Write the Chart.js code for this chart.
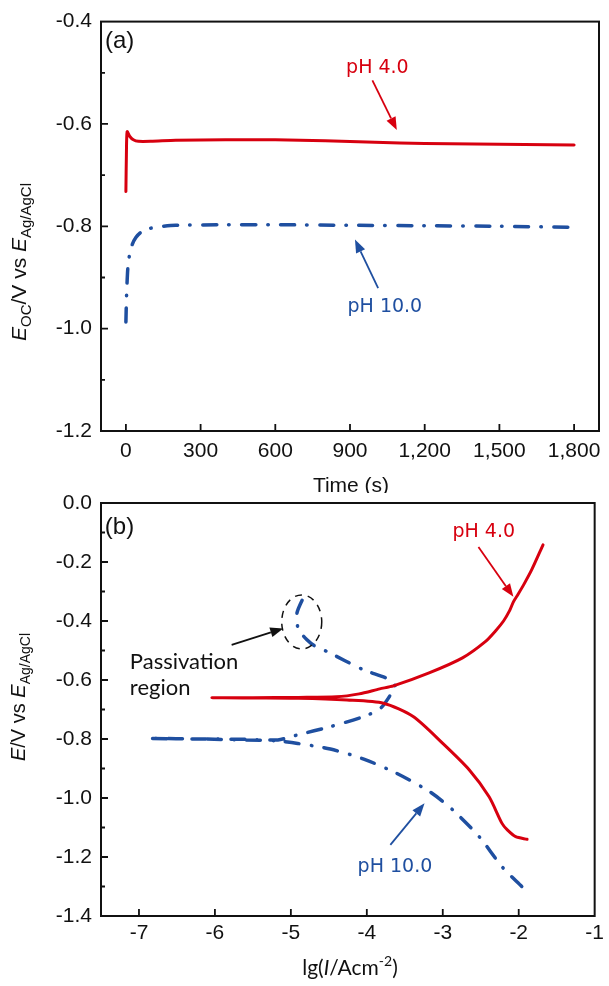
<!DOCTYPE html>
<html>
<head>
<meta charset="utf-8">
<script src="https://cdn.jsdelivr.net/npm/chart.js@4.4.1/dist/chart.umd.min.js"></script>
<style>
  body { margin: 0; background: #fff; }
  #wrap { position: relative; width: 609px; height: 986px; }
  canvas { position: absolute; left: 0; }
</style>
</head>
<body>
<div id="wrap">
  <canvas id="ocpChart" width="609" height="493" style="top:0"></canvas>
  <canvas id="tafelChart" width="609" height="506" style="top:480px"></canvas>
</div>
<script>
// (a) open-circuit potential vs time
const ocpTimeAcid = [0, 2, 5, 15, 30, 50, 100, 200, 400, 600, 800, 1000, 1200, 1400, 1600, 1800];
const ocpAcid = [-0.732, -0.66, -0.615, -0.624, -0.631, -0.634, -0.634, -0.632, -0.631, -0.631, -0.633, -0.636, -0.638, -0.639, -0.640, -0.641];
const ocpTimeBase = [0, 3, 8, 15, 25, 40, 60, 90, 130, 200, 400, 600, 900, 1200, 1500, 1800];
const ocpBase = [-0.987, -0.93, -0.88, -0.855, -0.836, -0.822, -0.812, -0.805, -0.801, -0.798, -0.797, -0.797, -0.798, -0.799, -0.800, -0.802];
const timeTicks = [0, 300, 600, 900, 1200, 1500, 1800];
const ocpTicks = [-1.2, -1.0, -0.8, -0.6, -0.4];

// (b) potentiodynamic polarization, points in scan order
const tafelAcidLogI = [-1.89, -2.04, -2.15, -2.22, -2.39, -2.65, -3.00, -3.39, -3.78, -4.26, -4.90, -5.50, -6.04, -5.50, -4.90, -4.40, -4.10, -3.83, -3.65, -3.18, -2.74, -2.44, -2.30, -2.20, -2.12, -2.07, -2.01, -1.93, -1.83, -1.68];
const tafelAcidE = [-1.140, -1.131, -1.108, -1.086, -0.996, -0.905, -0.815, -0.724, -0.679, -0.668, -0.662, -0.661, -0.660, -0.660, -0.659, -0.657, -0.647, -0.630, -0.620, -0.576, -0.525, -0.470, -0.432, -0.400, -0.365, -0.335, -0.310, -0.275, -0.227, -0.142];
const tafelBaseLogI = [-1.96, -2.22, -2.52, -2.87, -3.17, -3.61, -4.04, -4.48, -4.91, -5.20, -5.60, -6.20, -6.88, -6.20, -5.60, -5.17, -4.91, -4.48, -4.04, -3.82, -3.69, -3.63, -3.72, -4.04, -4.52, -4.69, -4.77, -4.90, -4.92, -4.82];
const tafelBaseE = [-1.300, -1.233, -1.131, -1.040, -0.979, -0.916, -0.868, -0.834, -0.815, -0.806, -0.803, -0.800, -0.798, -0.800, -0.801, -0.803, -0.786, -0.758, -0.724, -0.696, -0.651, -0.620, -0.596, -0.566, -0.504, -0.484, -0.468, -0.429, -0.373, -0.312];
const logITicks = [-7, -6, -5, -4, -3, -2, -1];
const tafelTicks = [-1.4, -1.2, -1.0, -0.8, -0.6, -0.4, -0.2, 0.0];

const RED = '#d7000f';
const BLUE = '#1f4fa0';
const DASH_DOT = [14, 12, 0.5, 12.5];
const TICK_FONT = { family: '"Liberation Sans", Arial, sans-serif', size: 21 };

function toPoints(xs, ys) {
    return xs.map((x, i) => ({ x: x, y: ys[i] }));
}

function fixTicks(values) {
    return scale => { scale.ticks = values.map(v => ({ value: v })); };
}

function drawRich(ctx, parts, cx, cy, angle) {
    ctx.save();
    ctx.translate(cx, cy);
    ctx.rotate(angle || 0);
    let total = 0;
    parts.forEach(p => {
        ctx.font = p.font;
        p.w = ctx.measureText(p.text).width;
        total += p.w;
    });
    let x = -total / 2;
    ctx.textAlign = 'left';
    ctx.textBaseline = 'alphabetic';
    ctx.fillStyle = '#111';
    parts.forEach(p => {
        ctx.font = p.font;
        ctx.fillText(p.text, x, p.dy || 0);
        x += p.w;
    });
    ctx.restore();
}

function drawArrow(ctx, x0, y0, x1, y1, color) {
    const a = Math.atan2(y1 - y0, x1 - x0);
    const head = 13, half = 5;
    const bx = x1 - head * Math.cos(a), by = y1 - head * Math.sin(a);
    ctx.save();
    ctx.strokeStyle = color;
    ctx.fillStyle = color;
    ctx.lineWidth = 1.8;
    ctx.beginPath();
    ctx.moveTo(x0, y0);
    ctx.lineTo(bx, by);
    ctx.stroke();
    ctx.beginPath();
    ctx.moveTo(x1, y1);
    ctx.lineTo(bx + half * Math.sin(a), by - half * Math.cos(a));
    ctx.lineTo(bx - half * Math.sin(a), by + half * Math.cos(a));
    ctx.closePath();
    ctx.fill();
    ctx.restore();
}

// frame with inward major/minor ticks
const framePlugin = {
    id: 'frame',
    afterDraw(chart, args, opts) {
        const { ctx, chartArea: a, scales } = chart;
        ctx.save();
        ctx.strokeStyle = '#111';
        ctx.lineWidth = 2;
        ctx.strokeRect(a.left, a.top, a.right - a.left, a.bottom - a.top);
        ctx.lineWidth = 1.8;
        ctx.beginPath();
        opts.xTicks.forEach(v => {
            const px = scales.x.getPixelForValue(v);
            if (px <= a.left + 1 || px >= a.right - 1) return;
            ctx.moveTo(px, a.bottom);
            ctx.lineTo(px, a.bottom - 7);
        });
        opts.yTicks.forEach((v, i) => {
            const py = scales.y.getPixelForValue(v);
            if (py > a.top + 1 && py < a.bottom - 1) {
                ctx.moveTo(a.left, py);
                ctx.lineTo(a.left + 7, py);
            }
            if (i < opts.yTicks.length - 1) {
                const pm = scales.y.getPixelForValue((v + opts.yTicks[i + 1]) / 2);
                ctx.moveTo(a.left, pm);
                ctx.lineTo(a.left + 4, pm);
            }
        });
        ctx.stroke();
        ctx.restore();
        if (opts.extra) opts.extra(chart);
    }
};

const baseOptions = (xMin, xMax, xTicks, yMin, yMax, yTicks, xFmt, xHeight, padTop, xPad) => ({
    responsive: false,
    animation: false,
    devicePixelRatio: 1,
    layout: { padding: { top: padTop, right: 10, left: 0, bottom: 0 } },
    plugins: { legend: { display: false }, tooltip: { enabled: false } },
    elements: { point: { radius: 0 } },
    scales: {
        x: {
            type: 'linear', min: xMin, max: xMax,
            afterBuildTicks: fixTicks(xTicks),
            afterFit: s => { s.height = xHeight; },
            grid: { display: false, drawTicks: false },
            border: { display: false },
            ticks: { font: TICK_FONT, color: '#111', padding: xPad, maxRotation: 0, autoSkip: false, callback: xFmt }
        },
        y: {
            type: 'linear', min: yMin, max: yMax,
            afterBuildTicks: fixTicks(yTicks),
            afterFit: s => { s.width = 101; },
            grid: { display: false, drawTicks: false },
            border: { display: false },
            ticks: { font: TICK_FONT, color: '#111', padding: 9, autoSkip: false, callback: v => v.toFixed(1) }
        }
    }
});

function lineSet(points, color, width, dash) {
    return {
        data: points,
        borderColor: color,
        borderWidth: width,
        borderDash: dash || [],
        borderCapStyle: 'round',
        borderJoinStyle: 'round',
        showLine: true,
        tension: 0.25,
        fill: false
    };
}

const LABEL_FONT = '19px "DejaVu Sans", sans-serif';

function label(ctx, text, x, y, color, font, align) {
    ctx.save();
    ctx.font = font;
    ctx.fillStyle = color;
    ctx.textAlign = align || 'center';
    ctx.textBaseline = 'middle';
    ctx.fillText(text, x, y);
    ctx.restore();
}

const ocpOpts = baseOptions(-100, 1900, timeTicks, -1.2, -0.4, ocpTicks,
    v => v.toLocaleString('en-US'), 62, 19, 8);
ocpOpts.plugins.frame = {
    xTicks: timeTicks,
    yTicks: ocpTicks,
    extra(chart) {
        const { ctx, scales: { x, y } } = chart;
        const X = v => x.getPixelForValue(v), Y = v => y.getPixelForValue(v);
        label(ctx, '(a)', X(-84), Y(-0.438), '#111', '24px "Liberation Sans", Arial, sans-serif', 'left');
        label(ctx, 'pH 4.0', X(1010), Y(-0.491), RED, LABEL_FONT);
        drawArrow(ctx, X(990), Y(-0.515), X(1088), Y(-0.612), RED);
        label(ctx, 'pH 10.0', X(1040), Y(-0.957), BLUE, LABEL_FONT);
        drawArrow(ctx, X(1013), Y(-0.921), X(920), Y(-0.826), BLUE);
        const main = '21px "Liberation Sans", Arial, sans-serif';
        const mainIt = 'italic 21px "Liberation Sans", Arial, sans-serif';
        const sub = '15px "Liberation Sans", Arial, sans-serif';
        drawRich(ctx, [
            { text: 'E', font: mainIt }, { text: 'OC', font: sub, dy: 5 },
            { text: '/V vs ', font: main }, { text: 'E', font: mainIt },
            { text: 'Ag/AgCl', font: sub, dy: 5 }
        ], 26, 262, -Math.PI / 2);
        drawRich(ctx, [{ text: 'Time (s)', font: '21px "Liberation Sans", Arial, sans-serif' }], 351, 492, 0);
    }
};

new Chart(document.getElementById('ocpChart'), {
    type: 'scatter',
    data: {
        datasets: [
            lineSet(toPoints(ocpTimeAcid, ocpAcid), RED, 3),
            lineSet(toPoints(ocpTimeBase, ocpBase), BLUE, 3.5, DASH_DOT)
        ]
    },
    options: ocpOpts,
    plugins: [framePlugin]
});

const tafelOpts = baseOptions(-7.5, -1, logITicks, -1.4, 0, tafelTicks,
    v => String(v), 70, 23, 5);
tafelOpts.plugins.frame = {
    xTicks: logITicks,
    yTicks: tafelTicks,
    extra(chart) {
        const { ctx, scales: { x, y } } = chart;
        const X = v => x.getPixelForValue(v), Y = v => y.getPixelForValue(v);
        label(ctx, '(b)', X(-7.45), Y(-0.081), '#111', '24px "Liberation Sans", Arial, sans-serif', 'left');
        label(ctx, 'pH 4.0', X(-2.46), Y(-0.10), RED, LABEL_FONT);
        drawArrow(ctx, X(-2.53), Y(-0.149), X(-2.07), Y(-0.318), RED);
        label(ctx, 'pH 10.0', X(-3.63), Y(-1.234), BLUE, LABEL_FONT);
        drawArrow(ctx, X(-3.69), Y(-1.159), X(-3.24), Y(-1.018), BLUE);

        // passivation marker
        ctx.save();
        ctx.strokeStyle = '#111';
        ctx.lineWidth = 1.5;
        ctx.setLineDash([7, 6]);
        ctx.beginPath();
        ctx.ellipse(X(-4.857), Y(-0.403), 20, 27, 0, 0, Math.PI * 2);
        ctx.stroke();
        ctx.restore();
        drawArrow(ctx, X(-5.78), Y(-0.481), X(-5.10), Y(-0.425), '#111');
        const lato = '22px Lato, "Open Sans", sans-serif';
        label(ctx, 'Passivation', X(-7.12), Y(-0.539), '#111', lato, 'left');
        label(ctx, 'region', X(-7.12), Y(-0.627), '#111', lato, 'left');

        const main = '20px "Liberation Sans", Arial, sans-serif';
        const mainIt = 'italic 20px "Liberation Sans", Arial, sans-serif';
        const sub = '14px "Liberation Sans", Arial, sans-serif';
        drawRich(ctx, [
            { text: 'E', font: mainIt }, { text: '/V vs ', font: main },
            { text: 'E', font: mainIt }, { text: 'Ag/AgCl', font: sub, dy: 5 }
        ], 25, 217, -Math.PI / 2);
        const lg = '21px Lato, "Open Sans", sans-serif';
        drawRich(ctx, [
            { text: 'lg(', font: lg }, { text: 'I', font: 'italic ' + lg },
            { text: '/Acm', font: lg }, { text: '-2', font: '14px Lato, "Open Sans", sans-serif', dy: -9 },
            { text: ')', font: lg }
        ], 350, 495, 0);
    }
};

new Chart(document.getElementById('tafelChart'), {
    type: 'scatter',
    data: {
        datasets: [
            lineSet(toPoints(tafelAcidLogI, tafelAcidE), RED, 3),
            lineSet(toPoints(tafelBaseLogI, tafelBaseE), BLUE, 3.5, DASH_DOT)
        ]
    },
    options: tafelOpts,
    plugins: [framePlugin]
});
</script>
</body>
</html>
